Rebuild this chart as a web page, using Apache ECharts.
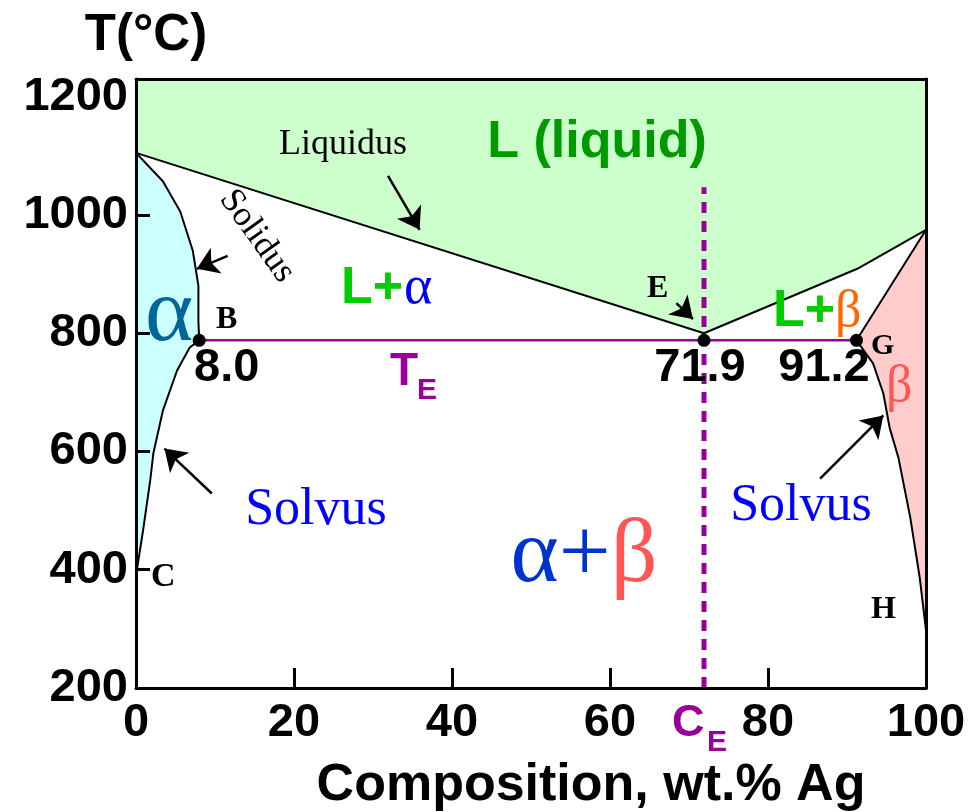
<!DOCTYPE html>
<html>
<head>
<meta charset="utf-8">
<script src="https://cdn.jsdelivr.net/npm/echarts@6/dist/echarts.min.js"></script>
<style>
  html, body { margin: 0; padding: 0; background: #fff; }
  #chart { width: 969px; height: 812px; }
</style>
</head>
<body>
<div id="chart"></div>
<script>
// Cu–Ag binary eutectic phase diagram

// axis ticks
const xTicks = [0, 20, 40, 60, 80, 100];
const yTicks = [200, 400, 600, 800, 1000, 1200];
const yTop = 1230;

// eutectic: temperature, B / E / G compositions
const eutecticT = 788;
const eutecticComps = [8.0, 71.9, 91.2];
const eutecticComposition = 71.9;
const ceDashTop = 1047;

// phase boundaries [wt.% Ag, T(°C)]
const liquidus = [[0, 1105], [71.9, 800], [91.3, 909], [100, 975]];
const solidusAlpha = [[0, 1105], [3.4, 1057], [5.6, 1006], [7.2, 939], [7.9, 880], [7.9, 820], [8.0, 788]];
const solvusAlpha = [[8.0, 788], [6.8, 776], [5.2, 737], [3.4, 669], [2.2, 597], [1.8, 551], [0.9, 467], [0, 390]];
const solidusBeta = [[91.2, 788], [100, 975]];
const solvusBeta = [[91.2, 788], [93.3, 749], [94.6, 698], [95.4, 640], [96.5, 590], [98.0, 489], [99.2, 387], [100, 298]];

// pointer arrows [from, to]
const arrows = [
  [[31.9, 1066], [35.9, 975]],   // Liquidus
  [[11.6, 931], [7.7, 909]],     // Solidus
  [[68.4, 851], [70.5, 824]],    // E
  [[9.6, 529], [3.6, 605]],      // Solvus (alpha)
  [[86.6, 554], [94.6, 661]]     // Solvus (beta)
];

const SANS = '"Liberation Sans", Arial, Helvetica, sans-serif';
const SERIF = '"Liberation Serif", "Times New Roman", Times, serif';
const PURPLE = '#990099';

// filled phase regions
const liquidRegion = liquidus.concat([[100, yTop], [0, yTop]]);
const alphaRegion = solidusAlpha.concat(solvusAlpha.slice(1));
const betaRegion = solidusBeta.slice().reverse().concat(solvusBeta.slice(1));

function regionSeries(points, color) {
  return {
    type: 'custom',
    coordinateSystem: 'cartesian2d',
    silent: true,
    z: 1,
    data: [[0, 200]],
    renderItem: function (params, api) {
      return {
        type: 'polygon',
        shape: { points: points.map(function (p) { return api.coord(p); }) },
        style: { fill: color, stroke: null }
      };
    }
  };
}

function curveSeries(points, color, width, type) {
  return {
    type: 'line',
    data: points,
    showSymbol: false,
    silent: true,
    z: 3,
    lineStyle: { color: color, width: width, type: type || 'solid' }
  };
}

function text(x, y, str, size, color, opts) {
  opts = opts || {};
  return {
    type: 'text',
    x: x, y: y,
    rotation: opts.rotation || 0,
    z: 100,
    style: {
      text: str,
      fontSize: size,
      fontFamily: opts.family || SANS,
      fontWeight: opts.weight || 'normal',
      fill: color,
      align: opts.align || 'left',
      verticalAlign: 'middle',
      rich: opts.rich
    }
  };
}

const chart = echarts.init(document.getElementById('chart'), null, { renderer: 'canvas' });

const axisLine = { show: true, onZero: false, lineStyle: { color: '#000', width: 3 } };

chart.setOption({
  animation: false,
  backgroundColor: '#fff',
  grid: { left: 136, right: 43, top: 79, bottom: 124, containLabel: false },
  xAxis: [
    {
      type: 'value', min: xTicks[0], max: xTicks[xTicks.length - 1], interval: 20,
      position: 'bottom', z: 10,
      axisLine: axisLine,
      axisTick: { show: true, inside: true, length: 20, lineStyle: { color: '#000', width: 3 } },
      axisLabel: { fontSize: 47, fontWeight: 'bold', fontFamily: SANS, color: '#000', margin: 12 },
      splitLine: { show: false }
    },
    {
      type: 'value', min: xTicks[0], max: xTicks[xTicks.length - 1], position: 'top', z: 10,
      axisLine: axisLine, axisTick: { show: false }, axisLabel: { show: false }, splitLine: { show: false }
    }
  ],
  yAxis: [
    {
      type: 'value', min: yTicks[0], max: yTop, interval: 200, position: 'left', z: 10,
      axisLine: axisLine,
      axisTick: { show: true, inside: true, length: 14, customValues: [400, 600, 800, 1000],
        lineStyle: { color: '#000', width: 3 } },
      axisLabel: {
        fontSize: 47, fontWeight: 'bold', fontFamily: SANS, color: '#000', margin: 8,
        customValues: yTicks,
        formatter: function (v) { return yTicks.indexOf(v) >= 0 ? String(v) : ''; }
      },
      splitLine: { show: false }
    },
    {
      type: 'value', min: yTicks[0], max: yTop, position: 'right', z: 10,
      axisLine: axisLine, axisTick: { show: false }, axisLabel: { show: false }, splitLine: { show: false }
    }
  ],
  series: [
    regionSeries(liquidRegion, '#ccffcc'),
    regionSeries(alphaRegion, '#ccffff'),
    regionSeries(betaRegion, '#ffcccc'),
    curveSeries(liquidus, '#000', 2),
    curveSeries(solidusAlpha, '#000', 2),
    curveSeries(solvusAlpha, '#000', 2),
    curveSeries(solidusBeta, '#000', 2),
    curveSeries(solvusBeta, '#000', 2),
    curveSeries([[eutecticComps[0], eutecticT], [eutecticComps[2], eutecticT]], PURPLE, 2.5),
    curveSeries([[eutecticComposition, yTicks[0]], [eutecticComposition, ceDashTop]], PURPLE, 5, [11, 8]),
    {
      type: 'scatter',
      data: eutecticComps.map(function (c) { return [c, eutecticT]; }),
      symbol: 'circle', symbolSize: 13, silent: true, z: 6,
      itemStyle: { color: '#000', opacity: 1 }
    },
    {
      type: 'lines',
      coordinateSystem: 'cartesian2d',
      silent: true, z: 6,
      symbol: ['none', 'arrow'],
      symbolSize: [0, 21],
      lineStyle: { color: '#000', width: 2.5, opacity: 1 },
      data: arrows.map(function (a) { return { coords: a }; })
    }
  ],
  graphic: [
    text(146, 36, 'T(°C)', 51, '#000', { weight: 'bold', align: 'center' }),
    text(591, 786, 'Composition, wt.% Ag', 52, '#000', { weight: 'bold', align: 'center' }),

    text(597, 143, 'L (liquid)', 52, '#009900', { weight: 'bold', align: 'center' }),
    text(279, 145, 'Liquidus', 36, '#000', { family: SERIF }),
    text(257, 236, 'Solidus', 35, '#000', { family: SERIF, align: 'center', rotation: -0.95 }),

    text(341, 289, 'L+', 52, '#00cc00', { weight: 'bold' }),
    text(404, 289, 'α', 54, '#0000ff', { family: SERIF }),
    text(773, 312, 'L+', 52, '#00cc00', { weight: 'bold' }),
    text(835, 312, 'β', 52, '#ff6600', { family: SERIF }),

    text(145, 316, 'α', 92, '#006699', { family: SERIF }),
    text(886, 387, 'β', 52, '#ff5555', { family: SERIF }),

    text(216, 320, 'B', 32, '#000', { family: SERIF, weight: 'bold' }),
    text(647, 289, 'E', 32, '#000', { family: SERIF, weight: 'bold' }),
    text(871, 346, 'G', 30, '#000', { family: SERIF, weight: 'bold' }),
    text(151, 577, 'C', 34, '#000', { family: SERIF, weight: 'bold' }),
    text(871, 610, 'H', 32, '#000', { family: SERIF, weight: 'bold' }),

    text(194, 368, eutecticComps[0].toFixed(1), 47, '#000', { weight: 'bold' }),
    text(700, 368, eutecticComps[1].toFixed(1), 47, '#000', { weight: 'bold', align: 'center' }),
    text(824, 368, eutecticComps[2].toFixed(1), 47, '#000', { weight: 'bold', align: 'center' }),

    text(390, 372, 'T', 46, PURPLE, { weight: 'bold' }),
    text(417, 391, 'E', 30, PURPLE, { weight: 'bold' }),
    text(672, 724, 'C', 45, PURPLE, { weight: 'bold' }),
    text(707, 743, 'E', 30, PURPLE, { weight: 'bold' }),

    text(316, 510, 'Solvus', 52, '#0000ff', { family: SERIF, align: 'center' }),
    text(801, 506, 'Solvus', 52, '#0000ff', { family: SERIF, align: 'center' }),

    text(584, 557, '{a|α+}{b|β}', 92, '#0033cc', {
      family: SERIF, align: 'center',
      rich: {
        a: { fontSize: 92, fontFamily: SERIF, fill: '#0033cc' },
        b: { fontSize: 92, fontFamily: SERIF, fill: '#ff5555' }
      }
    })
  ]
});
</script>
</body>
</html>
